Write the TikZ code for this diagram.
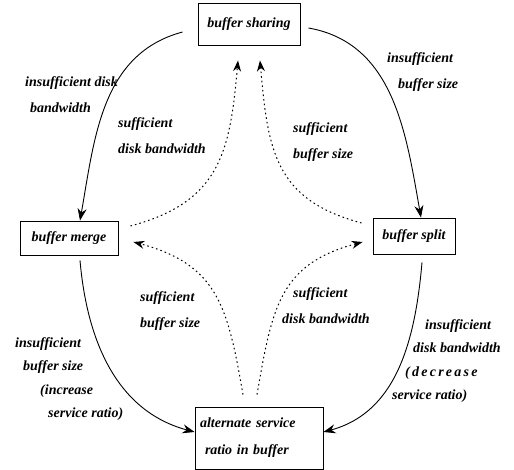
\documentclass[tikz,border=0pt]{standalone}
\usepackage{fontspec}
\setmainfont{Liberation Serif}
\usetikzlibrary{arrows.meta}

\begin{document}
\begin{tikzpicture}[x=1pt, y=1pt,
  statebox/.style={draw=black, line width=0.9pt, inner sep=0pt,
    font=\bfseries\itshape\fontsize{14}{23}\selectfont},
  condlabel/.style={anchor=north west, inner sep=0pt, align=left,
    font=\bfseries\itshape\fontsize{14}{26}\selectfont},
  switcharrow/.style={-{Stealth[length=12pt,width=9pt]}, line width=0.9pt},
  backarrow/.style={-{Stealth[length=11pt,width=8pt]}, line width=1pt,
    dash pattern=on 1.6pt off 3pt}
]
\useasboundingbox (0,0) rectangle (514,470);
\node[statebox, minimum width=102pt, minimum height=42pt] (sharing) at (249,446) {buffer sharing};
\node[statebox, minimum width=98pt, minimum height=34pt] (merge) at (69,232) {buffer merge};
\node[statebox, minimum width=82pt, minimum height=36pt] (split) at (414,234) {buffer split};
\node[statebox, minimum width=128pt, minimum height=62pt, text width=118pt, align=left,
  font=\bfseries\itshape\fontsize{14}{27}\selectfont] (alternate) at (259,32)
  {alternate service\\\hspace*{5pt}ratio in buffer};
% conditions
\node[condlabel] (lbl-share-merge) at (25,394) {insufficient disk\\\hspace*{5pt}bandwidth};
\node[condlabel] (lbl-share-split) at (387,418) {insufficient\\\hspace*{11pt}buffer size};
\node[condlabel] (lbl-merge-share) at (118,353) {sufficient\\disk bandwidth};
\node[condlabel] (lbl-split-share) at (293,348) {sufficient\\buffer size};
\node[condlabel] (lbl-alt-merge) at (140,179) {sufficient\\buffer size};
\node[condlabel] (lbl-alt-split) at (282,183) {\hspace*{11pt}sufficient\\disk bandwidth};
\node[condlabel, font=\bfseries\itshape\fontsize{14}{23.5}\selectfont] (lbl-merge-alt) at (15,133)
  {insufficient\\\hspace*{8pt}buffer size\\\hspace*{25pt}(increase\\\hspace*{33pt}service ratio)};
\node[condlabel, font=\bfseries\itshape\fontsize{14}{23.5}\selectfont] (lbl-split-alt) at (392,151)
  {\hspace*{33pt}insufficient\\\hspace*{21pt}disk bandwidth\\
   \hspace*{13pt}{\addfontfeatures{LetterSpace=16}(decrease}\\service ratio)};
% switching
\draw[switcharrow] ([shift={(-15pt,-8pt)}]sharing.west) to[out=195,in=80] ([xshift=11pt]merge.north);
\draw[switcharrow] ([shift={(8pt,-4pt)}]sharing.east) to[out=-10,in=100] ([xshift=7pt]split.north);
\draw[switcharrow] ([shift={(11pt,-5pt)}]merge.south) to[out=-85,in=165] ([yshift=6pt]alternate.west);
\draw[switcharrow] ([shift={(8pt,-8pt)}]split.south) to[out=-95,in=15] ([yshift=6pt]alternate.east);
% going back
\draw[backarrow] ([shift={(12pt,12pt)}]merge.east) to[out=15,in=265,looseness=1.2] ([shift={(-11pt,-15pt)}]sharing.south);
\draw[backarrow] ([shift={(-11pt,13pt)}]split.west) to[out=165,in=275,looseness=1.2] ([shift={(11pt,-15pt)}]sharing.south);
\draw[backarrow] ([shift={(-16pt,12pt)}]alternate.north) to[out=100,in=-15,looseness=1.2] ([shift={(15pt,-4pt)}]merge.east);
\draw[backarrow] ([shift={(-2pt,12pt)}]alternate.north) to[out=80,in=195,looseness=1.2] ([shift={(-10pt,-6pt)}]split.west);
\end{tikzpicture}
\end{document}
